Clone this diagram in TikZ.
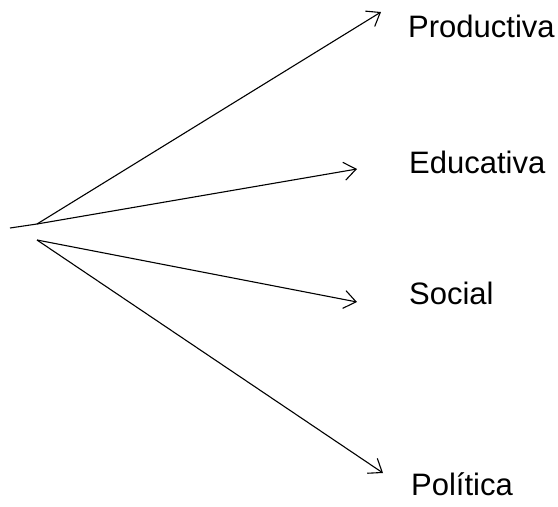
\documentclass[tikz,border=0pt]{standalone}
\usepackage{fontspec}
\setmainfont{Liberation Sans}
\usetikzlibrary{arrows.meta, positioning}

\begin{document}
\begin{tikzpicture}[x=1pt, y=-1pt,
			% Define styles
			branch/.style={-{Straight Barb[length=12pt, width=18pt, line width=1.1pt]}, line width=1.1pt, draw=black},
			stub/.style={line width=1.1pt, draw=black},
			outlabel/.style={anchor=base west, inner sep=0pt, font=\fontsize{31}{37}\selectfont}
			]
			\useasboundingbox (0,0) rectangle (558,507);
			
			% Starting point of the fan
			\coordinate (tail) at (10,228);
			\coordinate (hubtop) at (37,224);
			\coordinate (hubbot) at (37,240);
			
			% Labels
			\node[outlabel] (productiva) at (408,37) {Productiva};
			\node[outlabel] (educativa) at (409,173) {Educativa};
			\node[outlabel] (social) at (409,304) {Social};
			\node[outlabel] (politica) at (411,495) {Política};
			
			% Arrow ends
			\coordinate (tipprod) at (381,12);
			\coordinate (tipedu) at (357,169);
			\coordinate (tipsoc) at (357,302);
			\coordinate (tippol) at (383,473);
			
			% Connections
			\draw[stub] (tail) -- (hubtop);
			\draw[branch] (hubtop) -- (tipprod);
			\draw[branch] (hubtop) -- (tipedu);
			\draw[branch] (hubbot) -- (tipsoc);
			\draw[branch] (hubbot) -- (tippol);
			
		\end{tikzpicture}
\end{document}
